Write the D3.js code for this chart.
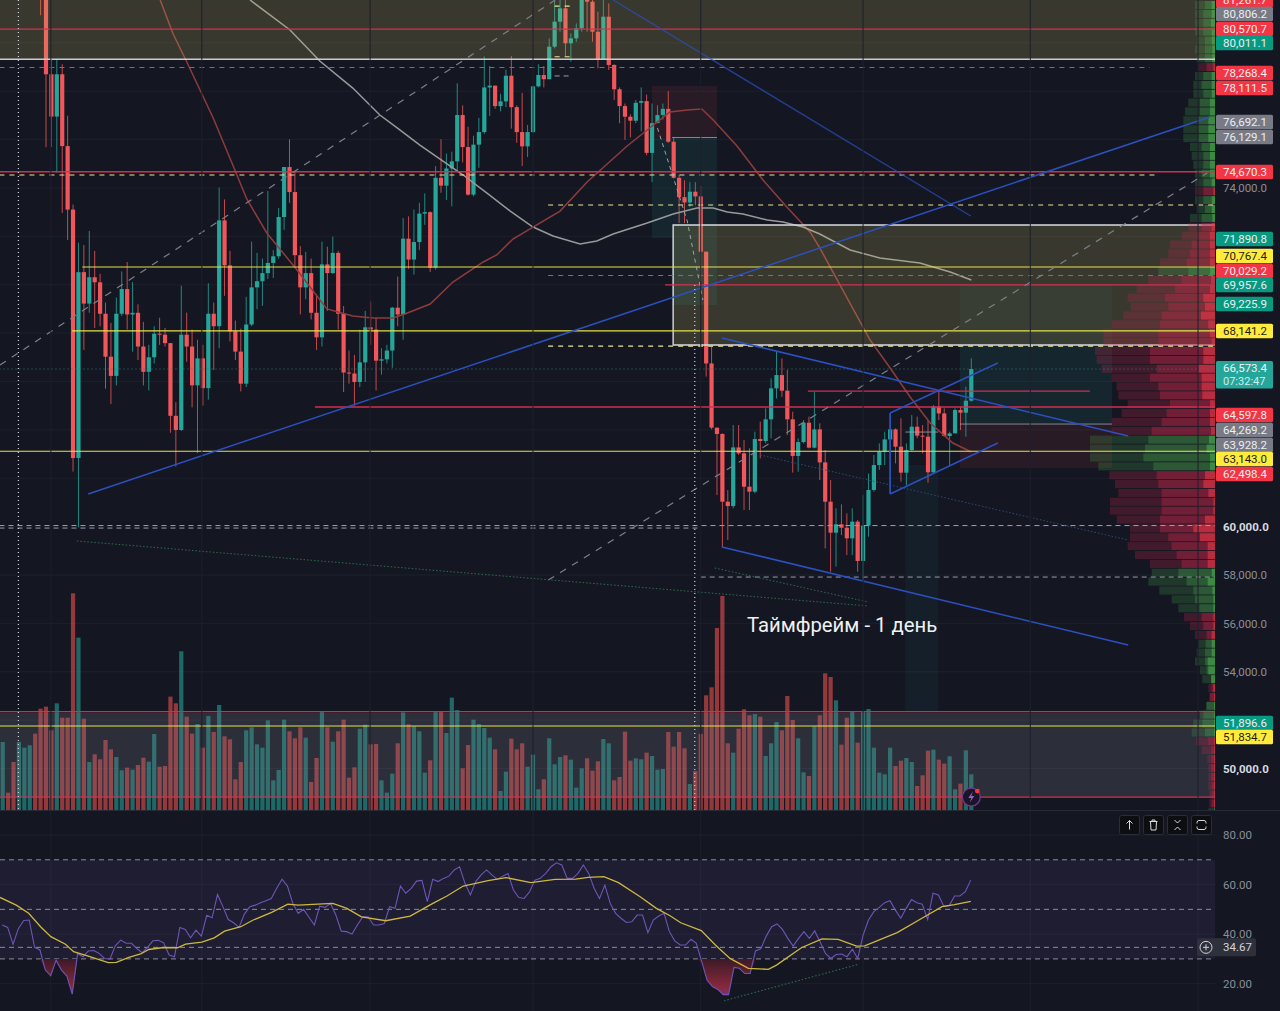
<!DOCTYPE html>
<html>
<head>
<meta charset="utf-8">
<script src="https://cdn.jsdelivr.net/npm/d3@7"></script>
<style>
  html, body { margin: 0; padding: 0; background: #141722; overflow: hidden; }
  svg { display: block; }
  text { font-family: Roboto, "Noto Sans", sans-serif; }
</style>
</head>
<body>
<div id="viz"></div>
<script>
// candles start at bar 7, everything before sits above the visible range
var firstCandle = 7;
var firstOpen = 85600;
var closes = [84200,78700,76950,78700,75730,73105,62835,70520,69220,70310,70100,68800,67025,66230,68800,69820,68770,68840,67445,66400,67000,67975,67935,67585,64580,63995,67935,67445,65840,66955,65725,68800,68285,72660,70800,68075,67235,65910,68355,69890,70145,70480,70900,71175,72800,74865,73830,71220,69890,70480,68840,67825,70840,70480,71315,68800,66370,66330,65980,66790,68240,68145,66860,66915,67280,69050,68770,71905,71040,71765,72940,73000,
  70700,74420,74095,74805,75100,77015,75690,73725,75790,76310,78155,78230,77385,77580,78640,77340,76310,75720,76310,78200,78670,78495,79840,80875,81425,79980,80185,80600,81840,81700,80460,79315,81080,79085,78080,77385,76945,76780,77520,77590,75450,76680,77015,77270,75910,74420,73620,73400,73845,73650,71365,66745,
  64090,63830,61030,60850,63275,63030,61650,61445,63620,63540,64435,65715,66265,65620,64435,62920,63495,64295,63265,64020,62655,61030,59750,60095,59955,59515,60205,58580,60040,61515,62545,63100,63605,64020,63305,62230,63165,64130,63760,63720,62245,64960,64680,63745,63855,64820,64710,65205,66515];
var highs = [86000,84500,79325,79325,79115,76990,73315,71735,71640,72225,71400,70450,69260,68425,69470,70550,70940,70100,69190,68465,67515,68285,68635,68215,67585,65140,69960,68845,68145,67725,67515,70060,69260,74015,73525,71400,68520,68185,69500,71780,71315,71080,73875,71430,73175,74865,76010,74710,71595,71360,71080,69610,71780,71570,71990,71400,69120,67280,67100,68145,68915,69305,68635,67375,67515,69080,70340,72755,72825,73105,73385,73775,
  73030,74905,76015,75425,75500,78330,77415,76530,76160,76900,79440,79040,78230,77900,78890,79450,77415,77930,76605,78230,79115,79040,80185,81770,81900,82180,80390,80805,82180,81980,81770,81290,81770,81630,79115,78155,77490,77045,77635,78155,77860,77490,77415,77490,78005,76090,74535,74315,74240,74240,74095,71365,
  67450,64090,63855,61510,64200,64200,63580,63235,63925,64340,64890,66130,67260,66955,66475,64750,63650,64405,64545,65580,64270,63165,61925,60755,60920,60550,60755,60270,61305,62200,62960,63440,63925,64680,64060,64475,63440,64615,64545,64200,64405,65025,65645,64890,63925,64890,64955,65785,66955];
var lows = [81140,75690,75690,74640,72965,71850,62275,59970,67305,68840,68215,68285,65700,65070,65840,68705,68145,67235,66885,65840,65630,66745,67515,67445,63880,62485,63950,66815,64930,63045,65000,65250,66470,67375,69540,67655,66885,65590,65770,68285,68985,69125,70240,70285,71080,72270,73385,70730,68775,69400,68565,67305,67445,68915,70450,68145,65560,65910,65000,65770,65980,67515,65630,66285,66745,66565,68285,67725,70660,70420,71430,72475,
  70520,70625,73800,73505,73240,74685,75055,73680,73650,74835,76235,76975,77270,77165,77340,76455,75865,74905,75275,76280,78155,78155,78490,79770,80460,79430,79220,80045,80460,80460,80045,78945,79290,78875,77635,76680,75985,76090,76680,76340,75350,74240,76680,76825,75865,74390,72545,72545,73210,73285,70110,66200,
  64020,61305,59145,59445,60755,62960,60685,60685,61375,62820,63440,63650,65300,65370,63785,62230,62270,63440,63235,63235,61925,59100,58135,58345,59650,58825,58825,58135,57790,59585,61445,62340,62545,61375,62615,61855,61720,63100,63650,63030,61815,62200,64405,63720,62545,63855,63990,63720,65165];

// positive = up day, negative = down day (arbitrary units)
var volumes = [204,-52,-144,204,187,194,-229,-304,-310,-239,320,-277,-277,-650,517,-274,144,-167,-152,-210,-182,159,119,-127,121,-135,-157,145,228,-130,-132,-340,-320,476,-280,-229,258,-187,282,-234,315,-221,-212,-92,-144,239,248,197,187,269,89,120,271,-236,-215,-248,217,-84,-156,296,-248,205,-236,-271,-97,-128,244,256,-197,-198,89,52,109,-200,293,-257,251,236,112,-149,294,-297,231,337,300,-125,-195,271,258,246,217,-182,57,
  115,-214,-182,-200,130,166,62,-92,215,137,159,-164,151,67,125,-155,-118,-146,213,200,-89,-99,-235,-148,155,152,-172,162,121,123,-234,-190,-234,-185,78,-117,-228,-344,-368,-546,-642,-200,172,-244,-302,-284,288,-280,162,200,264,-239,-342,-270,215,113,-102,251,-284,-410,-399,329,-196,-277,296,-202,294,303,187,112,107,187,-132,-148,156,144,-72,-104,-178,181,-151,-139,161,62,-79,179,107];

var rsiValues = [43.7,42.7,35.9,42.3,45.5,45.7,34.7,33.6,25.5,23.2,29.5,25.5,23.1,15.8,32.2,30.9,33.2,33.4,32.2,30.2,29.9,35.3,37.6,36.3,36.3,34.2,32.5,34.7,37.3,37.5,36.5,31.6,30.9,42.7,41.9,38.5,41.6,39.2,47.6,46.6,56.0,51.1,45.9,44.6,42.7,48.1,51.1,51.7,52.7,53.5,54.4,58.5,62.2,59.4,52.4,48.4,50.0,46.8,43.7,51.3,50.8,52.4,47.7,41.2,41.0,40.0,43.7,47.0,47.0,43.7,43.7,44.3,51.1,50.4,59.4,56.5,58.5,61.4,61.7,53.1,62.1,61.2,62.5,63.4,65.9,67.2,60.5,55.8,61.2,63.9,65.9,63.9,62.1,63.4,64.5,57.8,54.8,54.4,57.1,61.8,62.5,64.5,67.2,68.8,67.9,62.5,62.5,64.5,67.9,64.5,58.5,54.4,59.8,52.4,48.4,46.4,44.7,45.0,47.7,47.7,40.6,45.7,47.3,48.4,41.0,37.3,35.6,35.6,37.9,36.3,28.9,21.4,18.8,17.7,15.6,15.6,26.6,26.2,24.1,24.1,33.2,34.2,39.2,43.0,44.1,41.9,38.3,35.2,38.3,41.0,38.3,41.3,36.9,32.2,30.2,31.8,32.0,30.9,33.9,30.2,39.6,45.7,49.1,50.8,52.7,53.5,49.7,46.4,50.4,54.0,52.7,52.1,45.9,56.5,55.8,51.3,51.5,55.4,55.4,57.1,61.8];
var rsiMaBars = [-0.5,2.5,4.8,7,8.9,11.6,13.1,16.1,19.5,21,23.3,25.5,27,29.7,32.3,33.8,36.8,39.1,41,44,46.3,49.7,52.7,54.6,61,63.6,66.3,70.8,75.3,79.5,82.1,85.1,89.7,93,97.6,102.1,105.9,108.2,111.1,113.8,117.8,120.8,123.4,125.3,129.1,131.7,134.4,137.8,141.5,143,147.6,151.4,154.4,157.8,159.3,165.3,170.6,173.6,175.9,178.9];
var rsiMaValues = [54.8,51.7,48.4,43,39,35.9,32.9,30.9,28.5,28.6,30.6,32,33.8,34.6,34.5,36,36.8,38.5,41.2,43,45.7,48.8,52.1,51.7,52.4,50.4,47,45.4,47.3,52.4,55.4,59.4,61.6,62.8,60.8,62.1,62.2,62.9,63.2,60.8,55.1,50.4,47.3,44.6,41.4,35.6,30.2,26.2,25.8,27.5,34.5,38.1,37.9,35.2,35.3,40.6,47.3,51.1,51.9,53.2];

var maFastBars = [29.1,31.5,34.2,38.9,42.6,45.1,48.8,54.4,59.9,64.7,68.4,72.1,74.3,79,83.2,88.8,91.3,94.3,98,103,108,111.7,115.4,119.1,123.3,126.5,129.2,131.3,135.7,140.5,144.9,149.2,151,160.3,164,167.7,171.4,175.6,179];
var maFastPrices = [81770,80365,79125,76890,74910,73545,72140,70610,69000,68705,68625,68625,68790,69200,70110,70940,71230,71890,72385,73045,74245,74990,75735,76395,77140,77220,77265,76810,75735,74330,73215,72180,71520,67715,66555,65360,64285,63455,63085];
var maSlowBars = [45.7,53.1,58.6,64.7,69.7,72.9,77.1,85.1,89.5,93.8,98,101.7,106.7,109.8,112.8,119.1,123.9,128.3,131.3,133.9,136.8,141.3,144.2,147.9,151,156.6,162.1,169.5,175.1,179];
var maSlowPrices = [81770,80530,79250,78130,77015,76480,75775,74535,73790,73045,72385,72015,71685,71805,72095,72550,72925,73170,73170,73005,72920,72675,72590,72385,72095,71435,71105,70900,70525,70195];

// volume profile, top row first. sign of total = row colour
var vpTopPrice = 81745;
var vpRowSize = 366.7;
var vpTotals = [60,60,60,60,55,60,55,-50,60,65,65,80,90,95,95,95,75,70,65,60,60,-60,60,55,75,-80,-100,-135,-140,-165,170,-200,-235,-262,-253,-275,-310,-335,-335,-360,-355,-340,-310,-295,-290,-262,-280,-310,-310,375,375,375,350,-317,-300,-290,-315,-315,-295,-255,-255,-262,-240,-195,190,200,167,130,110,-93,-75,-60,50,55,60,45,38,-20,-17,27,45,65,70,-57,-40,-23,-20,-20,-20,-17,-17,20];
var vpMids = [30,35,35,35,30,30,30,25,35,40,35,45,45,50,50,50,40,35,35,40,35,35,35,30,40,40,55,70,75,85,80,100,120,150,140,160,165,170,170,195,195,175,195,170,165,135,145,160,190,200,210,215,185,175,170,160,160,160,165,165,140,130,115,100,110,85,65,60,47,40,35,25,28,30,30,25,10,10,15,25,35,38,30,20,12,12,12,12,10,10,10];
var vpInners = [10,10,12,10,10,8,8,5,10,10,10,15,15,20,20,20,15,15,15,15,10,5,10,10,8,10,15,15,15,15,15,12,15,35,30,42,20,15,10,35,35,50,40,40,38,15,15,15,12,18,25,15,15,30,35,20,5,5,30,65,45,22,22,22,10,22,8,5,5,5,5,10,10,10,22,20,12,5,3,3,3,3,3,3,3,3,3,3,3,3,3,3];

// price axis
var axisTicks = [74000,60000,58000,56000,54000,50000];
var rsiTicks = [80,60,40,20];
var gridBars = [8.9,36.8,67.9,98,129,159,189.9,220.9];
var gridPrices = [80000,78000,76000,74000,72000,70000,68000,66000,64000,62000,60000,58000,56000,54000,52000,50000];
var badgeValues = [81261.7,80806.2,80570.7,80011.1,78268.4,78111.5,76692.1,76129.1,74670.3,71890.8,70767.4,70029.2,69957.6,69225.9,68141.2,64597.8,64269.2,63928.2,63143.0,62498.4,51896.6,51834.7];
var badgeKinds = ["r","g","r","t","r","r","g","g","r","t","y","r","t","t","y","r","g","g","y","r","t","y"];
var lastPrice = 66573.4;
var countdown = "07:32:47";
var rsiLast = 34.67;
var caption = "Таймфрейм - 1 день";

// level lines [price, fromBar, toBar]
var rightEdge = 224.1, leftEdge = -0.6;
var redLevels = [[80570,leftEdge,rightEdge],[74670,leftEdge,rightEdge],[69990,122.4,rightEdge],[64945,57.7,rightEdge],[65605,148.8,200.9],[52355,leftEdge,rightEdge],[48820,leftEdge,rightEdge]];
var yellowLevels = [[70735,14.7,rightEdge],[68090,12.8,rightEdge],[63113,leftEdge,rightEdge],[51760,leftEdge,rightEdge]];
var yellowDashed = [[74535,leftEdge,213],[73295,100.8,rightEdge],[67465,100.8,rightEdge],[81520,102,104.8],[79425,102,104.8]];
var pinkDashed = [[78980,leftEdge,212],[70380,100.8,rightEdge]];
var greyDashed = [[60045,leftEdge,rightEdge],[59940,leftEdge,129],[57915,129,rightEdge],[78630,102,104.8]];
var whiteLevels = [[79320,leftEdge,rightEdge]];
var thinGrey = [[76085,123.7,132],[63910,166.8,172.9],[64240,176.9,205]];

// trend lines [bar, price, bar, price]
var blueLines = [[15.8,61350,223.1,76935],[132.9,67800,208,63745],[132.9,59160,208,55105],[164,61350,183.9,63455],[164,64695,183.9,66765],[164,64695,164,61350]];
var blueFaded = [[112.8,81770,178.9,72840]];
var greyDiagonals = [[-0.5,66680,102.1,81770],[100.8,57790,222.6,74620]];
var greenDotted = [[13.7,59405,159.9,56720],[131.6,58290,159.9,56885]];
var blueDotted = [[140,62960,208,59445]];
var rsiDivergence = [133.3,13.1,158.1,27.8];
var arrowBars = [121,126.5,129.4];
var arrowPrices = [76480,72635,69370];

// zones [fromBar, toBar, topPrice, bottomPrice]
var oliveZones = [[leftEdge,rightEdge,81770,79320],[123.9,rightEdge,72470,67510]];
var tealZones = [[123.7,132,76085,69160],[120,123.7,76085,71930],[176.9,205,67510,64240]];
var tealFaint = [[176.9,205,69990,67510],[166.8,172.9,62550,52335]];
var redZones = [[120,132,78215,76085],[176.9,205,64240,62420]];
var volumeZone = [leftEdge,rightEdge,52295,48820];


var width = 1280,
    height = 1011,
    paneRight = 1215,
    paneBottom = 810;

var upColor = "#26a69a",
    downColor = "#f0565a",
    badgeFill = { r: "#f23645", g: "#787b86", t: "#089981", y: "#ffeb3b" };

var svg = d3.select("#viz").append("svg")
    .attr("width", width)
    .attr("height", height);

var xBar = d3.scaleLinear().domain([0, 179]).range([2.7, 971.3]);
var xRsiSample = d3.scaleLinear().domain([0, rsiValues.length - 1]).range([2.3, 970.7]);
var yPrice = d3.scaleLinear().domain([81770, 48285]).range([0, paneBottom]);
var yVolume = d3.scaleLinear().domain([0, 662]).range([paneBottom, 589.3]);
var yRsi = d3.scaleLinear().domain([80, 20]).range([835, 983.7]);
var vpWidth = d3.scaleLinear().domain([0, 375]).range([0, 125]);

var defs = svg.append("defs");
defs.append("clipPath").attr("id", "pricePane").append("rect")
    .attr("x", 0).attr("y", 0).attr("width", paneRight).attr("height", paneBottom);
var grad = defs.append("linearGradient").attr("id", "rsiLow")
    .attr("x1", 0).attr("x2", 0).attr("y1", 0).attr("y2", 1)
    .attr("gradientUnits", "userSpaceOnUse");
grad.attr("y1", yRsi(30)).attr("y2", yRsi(15));
grad.append("stop").attr("offset", "0%").attr("stop-color", "#3c1a28");
grad.append("stop").attr("offset", "70%").attr("stop-color", "#82283a");
grad.append("stop").attr("offset", "100%").attr("stop-color", "#8a3068");

svg.append("rect").attr("width", width).attr("height", height).attr("fill", "#141722");

var pane = svg.append("g").attr("clip-path", "url(#pricePane)");

// grid
pane.selectAll(".gridH").data(gridPrices).enter().append("line")
    .attr("x1", 0).attr("x2", paneRight)
    .attr("y1", function (d) { return yPrice(d); })
    .attr("y2", function (d) { return yPrice(d); })
    .attr("stroke", "#1d202c");
svg.selectAll(".gridV").data(gridBars).enter().append("line")
    .attr("x1", function (d) { return xBar(d); })
    .attr("x2", function (d) { return xBar(d); })
    .attr("y1", 0).attr("y2", height)
    .attr("stroke", "#1d202c");

// volume
pane.selectAll(".vol").data(volumes).enter().append("rect")
    .attr("x", function (d, i) { return xBar(i) - 2.1; })
    .attr("width", 4.2)
    .attr("y", function (d) { return yVolume(Math.abs(d)); })
    .attr("height", function (d) { return paneBottom - yVolume(Math.abs(d)); })
    .attr("fill", function (d) { return d > 0 ? "#26a69a" : "#ef5350"; })
    .attr("opacity", 0.58);

function zoneRects(data, fill) {
    pane.selectAll(null).data(data).enter().append("rect")
        .attr("x", function (d) { return xBar(d[0]); })
        .attr("width", function (d) { return xBar(d[1]) - xBar(d[0]); })
        .attr("y", function (d) { return yPrice(d[2]); })
        .attr("height", function (d) { return yPrice(d[3]) - yPrice(d[2]); })
        .attr("fill", fill);
}
zoneRects(tealZones, "rgba(38,166,154,0.11)");
zoneRects(tealFaint, "rgba(38,166,154,0.06)");
zoneRects(redZones, "rgba(239,83,80,0.09)");

// candles
var candles = closes.map(function (c, i) {
    return {
        bar: i + firstCandle,
        open: i === 0 ? firstOpen : closes[i - 1],
        close: c,
        high: highs[i],
        low: lows[i]
    };
});
var candle = pane.selectAll(".candle").data(candles).enter().append("g");
candle.append("line")
    .attr("x1", function (d) { return xBar(d.bar); })
    .attr("x2", function (d) { return xBar(d.bar); })
    .attr("y1", function (d) { return yPrice(d.high); })
    .attr("y2", function (d) { return yPrice(d.low); })
    .attr("stroke", function (d) { return d.close >= d.open ? upColor : downColor; })
    .attr("stroke-width", 1)
    .attr("opacity", 0.8);
candle.append("rect")
    .attr("x", function (d) { return xBar(d.bar) - 2.1; })
    .attr("width", 4.2)
    .attr("y", function (d) { return yPrice(Math.max(d.open, d.close)); })
    .attr("height", function (d) { return Math.max(1, Math.abs(yPrice(d.open) - yPrice(d.close))); })
    .attr("fill", function (d) { return d.close >= d.open ? upColor : downColor; });

// moving averages
var maLine = d3.line()
    .x(function (d) { return xBar(d[0]); })
    .y(function (d) { return yPrice(d[1]); });
pane.append("path").attr("d", maLine(d3.zip(maFastBars, maFastPrices)))
    .attr("fill", "none").attr("stroke", "#8f3b3d").attr("stroke-width", 1.5);
pane.append("path").attr("d", maLine(d3.zip(maSlowBars, maSlowPrices)))
    .attr("fill", "none").attr("stroke", "#999999").attr("stroke-width", 1.5);

// shaded zones go over the candles
zoneRects(oliveZones, "rgba(200,188,99,0.2)");
zoneRects([volumeZone], "rgba(130,133,145,0.22)");

// white box around the second zone
var box = oliveZones[1];
pane.append("path")
    .attr("d", "M" + xBar(box[1]) + "," + yPrice(box[2]) + "H" + xBar(box[0]) + "V" + yPrice(box[3]) + "H" + xBar(box[1]))
    .attr("fill", "none").attr("stroke", "#d8dae0").attr("stroke-width", 1.4);

// volume profile
var vpRows = vpTotals.map(function (t, i) {
    return { i: i, total: Math.abs(t), up: t > 0, mid: vpMids[i], inner: vpInners[i] };
});
function vpLayer(field, upFill, downFill) {
    pane.selectAll(null).data(vpRows).enter().append("rect")
        .attr("x", function (d) { return paneRight - vpWidth(d[field]); })
        .attr("width", function (d) { return vpWidth(d[field]); })
        .attr("y", function (d) { return yPrice(vpTopPrice - d.i * vpRowSize) + 0.4; })
        .attr("height", function (d) { return yPrice(vpTopPrice - (d.i + 1) * vpRowSize) - yPrice(vpTopPrice - d.i * vpRowSize) - 0.8; })
        .attr("fill", function (d) { return d.up ? upFill : downFill; });
}
vpLayer("total", "rgba(76,175,80,0.22)", "rgba(190,40,75,0.27)");
vpLayer("mid", "rgba(76,175,80,0.28)", "rgba(190,40,70,0.38)");
vpLayer("inner", "rgba(76,200,80,0.45)", "rgba(242,54,69,0.55)");

// horizontal levels
function levels(data, color, w, dash, op) {
    pane.selectAll(null).data(data).enter().append("line")
        .attr("x1", function (d) { return xBar(d[1]); })
        .attr("x2", function (d) { return xBar(d[2]); })
        .attr("y1", function (d) { return yPrice(d[0]); })
        .attr("y2", function (d) { return yPrice(d[0]); })
        .attr("stroke", color)
        .attr("stroke-width", w)
        .attr("stroke-dasharray", dash)
        .attr("opacity", op);
}
levels(whiteLevels, "#d1d4dc", 1.5, null, 0.95);
levels(redLevels, "#dc2f50", 1.3, null, 0.95);
levels(yellowLevels, "#e6e24a", 1.1, null, 1);
levels(yellowDashed, "#e9e58f", 1.2, "5,5", 1);
levels(pinkDashed, "#b9526a", 1.1, "5,5", 1);
levels(greyDashed, "#9a9da8", 1, "5,4", 1);
levels(thinGrey, "#a0a3ab", 1, null, 0.8);
// last price
levels([[66515, leftEdge, rightEdge]], "#2c7d77", 1, "1,3", 1);

// trend lines
function trends(data, color, w, dash, op) {
    pane.selectAll(null).data(data).enter().append("line")
        .attr("x1", function (d) { return xBar(d[0]); })
        .attr("y1", function (d) { return yPrice(d[1]); })
        .attr("x2", function (d) { return xBar(d[2]); })
        .attr("y2", function (d) { return yPrice(d[3]); })
        .attr("stroke", color)
        .attr("stroke-width", w)
        .attr("stroke-dasharray", dash)
        .attr("opacity", op);
}
trends(greyDiagonals, "#7d808a", 1.2, "7,7", 1);
trends(greenDotted, "#2f6b4a", 1, "1.5,2", 1);
trends(blueDotted, "#2b4a7a", 1, "1.5,2", 1);
trends(blueLines, "#2b50c0", 1.5, null, 1);
trends(blueFaded, "#2b50c0", 1.4, null, 0.7);
pane.append("path").attr("d", maLine(d3.zip(arrowBars, arrowPrices)))
    .attr("fill", "none").attr("stroke", "#a0a3ab").attr("stroke-width", 1).attr("stroke-dasharray", "4,4");

// crosshair style verticals
pane.append("line")
    .attr("x1", xBar(2.9)).attr("x2", xBar(2.9)).attr("y1", 0).attr("y2", paneBottom)
    .attr("stroke", "#d1d4dc").attr("stroke-width", 1.2).attr("stroke-dasharray", "1,3");
pane.append("line")
    .attr("x1", xBar(127.9)).attr("x2", xBar(127.9)).attr("y1", yPrice(69990)).attr("y2", paneBottom)
    .attr("stroke", "#d1d4dc").attr("stroke-width", 1.2).attr("stroke-dasharray", "1,3");

// caption
svg.append("text")
    .attr("x", 747).attr("y", 632)
    .attr("fill", "#f0f1f4")
    .attr("font-size", 20.3)
    .text(caption);

// event icon on the volume pane
var bolt = svg.append("g").attr("transform", "translate(" + xBar(179) + "," + yPrice(48820) + ")");
bolt.append("circle").attr("r", 9).attr("fill", "#1a1626").attr("stroke", "#6e3a92").attr("stroke-width", 1.3);
bolt.append("path").attr("d", "M1.5,-5.5L-3,1H0L-1.5,5.5L3,-1H0Z").attr("fill", "#9c5cc8");
bolt.append("circle").attr("cx", 6).attr("cy", -6).attr("r", 2.4).attr("fill", "#f23645");

// pane separator
svg.append("line").attr("x1", 0).attr("x2", width).attr("y1", paneBottom + 0.5).attr("y2", paneBottom + 0.5)
    .attr("stroke", "#262a36");

// price axis
var priceAxis = d3.axisRight(yPrice).tickValues(axisTicks).tickSize(0).tickPadding(8)
    .tickFormat(d3.format(",.1f"));
var axisG = svg.append("g").attr("transform", "translate(" + paneRight + ",0)").call(priceAxis);
axisG.select(".domain").remove();
axisG.selectAll("text")
    .attr("fill", function (d) { return d === 60000 || d === 50000 ? "#d8dae0" : "#8b8e99"; })
    .attr("font-weight", function (d) { return d === 60000 || d === 50000 ? 700 : 400; })
    .attr("font-size", 11.5)
    .style("font-family", "Roboto, sans-serif");

// the badges on the axis are pushed apart so they don't overlap
var badgeSlots = [0,14,29,43,73,88,122,137,172,239,256,271,285,304,331,415,430,445,459,474,723,737];
var fmt = d3.format(",.1f");
var badge = svg.selectAll(".badge").data(badgeValues).enter().append("g")
    .attr("transform", function (d, i) { return "translate(1216," + badgeSlots[i] + ")"; });
badge.append("rect")
    .attr("x", 0).attr("y", -7.3).attr("width", 57).attr("height", 14.6).attr("rx", 1.5)
    .attr("fill", function (d, i) { return badgeFill[badgeKinds[i]]; });
badge.append("text")
    .attr("x", 7).attr("dy", "0.35em")
    .attr("font-size", 11.5)
    .attr("fill", function (d, i) { return badgeKinds[i] === "y" ? "#1c1c14" : "#ecedf0"; })
    .text(function (d) { return fmt(d); });

// current price with countdown
var last = svg.append("g").attr("transform", "translate(1216,361)");
last.append("rect").attr("width", 57).attr("height", 27.5).attr("rx", 1.5).attr("fill", "#26a69a");
last.append("text").attr("x", 7).attr("y", 10.5).attr("font-size", 11.5).attr("fill", "#f2f4f5").text(fmt(lastPrice));
last.append("text").attr("x", 7).attr("y", 23.5).attr("font-size", 11).attr("fill", "#cfeeea").text(countdown);

// RSI pane
svg.selectAll(".rsiGrid").data(rsiTicks).enter().append("line")
    .attr("x1", 0).attr("x2", paneRight)
    .attr("y1", function (d) { return yRsi(d); })
    .attr("y2", function (d) { return yRsi(d); })
    .attr("stroke", "#1d202c");
svg.append("rect")
    .attr("x", 0).attr("width", paneRight)
    .attr("y", yRsi(70)).attr("height", yRsi(30) - yRsi(70))
    .attr("fill", "rgba(126,87,194,0.1)");
svg.selectAll(".rsiLevel").data([70, 50, rsiLast, 30]).enter().append("line")
    .attr("x1", 0).attr("x2", paneRight)
    .attr("y1", function (d) { return yRsi(d); })
    .attr("y2", function (d) { return yRsi(d); })
    .attr("stroke", "#8b8e99")
    .attr("stroke-width", 1)
    .attr("stroke-dasharray", "5,4");

var rsiArea = d3.area()
    .x(function (d, i) { return xRsiSample(i); })
    .y0(yRsi(30))
    .y1(function (d) { return yRsi(Math.min(d, 30)); });
svg.append("path").attr("d", rsiArea(rsiValues)).attr("fill", "url(#rsiLow)");

var rsiLine = d3.line()
    .x(function (d, i) { return xRsiSample(i); })
    .y(function (d) { return yRsi(d); });
svg.append("path").attr("d", rsiLine(rsiValues))
    .attr("fill", "none").attr("stroke", "#6f55b5").attr("stroke-width", 1.1);

var rsiMaLine = d3.line()
    .x(function (d) { return xBar(d[0]); })
    .y(function (d) { return yRsi(d[1]); });
svg.append("path").attr("d", rsiMaLine(d3.zip(rsiMaBars, rsiMaValues)))
    .attr("fill", "none").attr("stroke", "#cdb83e").attr("stroke-width", 1.3);

svg.append("line")
    .attr("x1", xBar(rsiDivergence[0])).attr("y1", yRsi(rsiDivergence[1]))
    .attr("x2", xBar(rsiDivergence[2])).attr("y2", yRsi(rsiDivergence[3]))
    .attr("stroke", "#2f6b4a").attr("stroke-width", 1.1).attr("stroke-dasharray", "1.5,2");

var rsiAxis = d3.axisRight(yRsi).tickValues(rsiTicks).tickSize(0).tickPadding(8)
    .tickFormat(d3.format(".2f"));
var rsiG = svg.append("g").attr("transform", "translate(" + paneRight + ",0)").call(rsiAxis);
rsiG.select(".domain").remove();
rsiG.selectAll("text").attr("fill", "#8b8e99").attr("font-size", 11.5)
    .style("font-family", "Roboto, sans-serif");

// RSI value badge with the plus button
var rsiBadge = svg.append("g").attr("transform", "translate(1197," + yRsi(rsiLast) + ")");
rsiBadge.append("rect").attr("y", -9).attr("width", 59).attr("height", 18).attr("rx", 2).attr("fill", "#2e313c");
rsiBadge.append("circle").attr("cx", 9).attr("r", 6).attr("fill", "none").attr("stroke", "#d1d4dc").attr("stroke-width", 1);
rsiBadge.append("path").attr("d", "M6,0H12M9,-3V3").attr("stroke", "#d1d4dc").attr("stroke-width", 1);
rsiBadge.append("text").attr("x", 26).attr("dy", "0.35em").attr("font-size", 11.5).attr("fill", "#d1d4dc").text(rsiLast.toFixed(2));

// pane toolbar
var toolIcons = [
    "M0,4.5V-4.5M-3,-1.5L0,-4.5L3,-1.5",
    "M-4,-3.5H4M-1.5,-3.5V-5H1.5V-3.5M-3,-3.5L-2.5,5H2.5L3,-3.5",
    "M-3,-5L0,-2L3,-5M-3,5L0,2L3,5",
    "M-4.5,-1.5V-2.5Q-4.5,-4.5 -2.5,-4.5H2.5Q4.5,-4.5 4.5,-2.5V-1.5M-4.5,1.5V2.5Q-4.5,4.5 -2.5,4.5H2.5Q4.5,4.5 4.5,2.5V1.5"
];
var tool = svg.selectAll(".tool").data(toolIcons).enter().append("g")
    .attr("transform", function (d, i) { return "translate(" + (1129.5 + i * 24) + ",825)"; });
tool.append("rect").attr("x", -10).attr("y", -9.5).attr("width", 20).attr("height", 19).attr("rx", 2)
    .attr("fill", "#0d0e12").attr("stroke", "#2a2e39");
tool.append("path").attr("d", function (d) { return d; })
    .attr("fill", "none").attr("stroke", "#d8dae0").attr("stroke-width", 1);
</script>
</body>
</html>
